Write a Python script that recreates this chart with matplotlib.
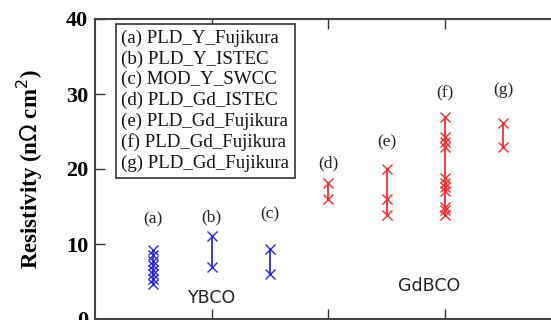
import matplotlib.pyplot as plt

# sample positions and measured resistivities (nOhm cm^2)
positions = [1, 2, 3, 4, 5, 6, 7]
tags = ["(a)", "(b)", "(c)", "(d)", "(e)", "(f)", "(g)"]
names = ["PLD_Y_Fujikura", "PLD_Y_ISTEC", "MOD_Y_SWCC", "PLD_Gd_ISTEC",
         "PLD_Gd_Fujikura", "PLD_Gd_Fujikura", "PLD_Gd_Fujikura"]
values = [
    [9.2, 8.5, 7.8, 7.2, 6.6, 6.0, 5.3, 4.7],
    [11.1, 6.9],
    [9.3, 6.0],
    [18.2, 16.0],
    [20.0, 16.0, 13.9],
    [27.0, 24.3, 23.6, 23.0, 18.8, 18.2, 17.6, 17.1, 15.0, 14.5, 13.9],
    [26.2, 23.0],
]
tag_y = [13.3, 13.5, 14.0, 20.8, 23.6, 30.1, 30.5]
groups = ["YBCO", "YBCO", "YBCO", "GdBCO", "GdBCO", "GdBCO", "GdBCO"]
colors = {"YBCO": "#2a2ae6", "GdBCO": "#ff2a2a"}

fig = plt.figure(figsize=(5.51, 3.20), dpi=100)
ax = fig.add_axes([95 / 551, 1 / 320, 466.7 / 551, 300 / 320])

for x, vals, g, t, ty in zip(positions, values, groups, tags, tag_y):
    vals = sorted(vals)
    ax.plot([x] * len(vals), vals, color=colors[g], lw=1.3, marker="x",
            ms=7, mew=1.0)
    ax.text(x, ty, t, ha="center", va="center", fontsize=12.5,
            family="Liberation Serif", color="#222222")

ax.text(2, 2.8, "YBCO", ha="center", va="center", fontsize=12.5,
        color="#222222")
ax.text(5.73, 4.4, "GdBCO", ha="center", va="center", fontsize=12.5,
        color="#222222")

legend_text = "\n".join(f"{t} {n}" for t, n in zip(tags, names))
ax.text(0.45, 38.6, legend_text, ha="left", va="top", fontsize=13.6,
        family="Liberation Serif", linespacing=1.26, color="#111111",
        bbox=dict(boxstyle="square,pad=0.3", fc="white", ec="#333333", lw=1.2))

ax.set_xlim(0, 8)
ax.set_ylim(0, 40)
ax.set_xticks([2, 4, 6])
ax.set_xticklabels([])
ax.set_yticks([0, 10, 20, 30, 40])
ax.tick_params(direction="in", length=7, width=1, top=True, right=True,
               color="#333333", labelsize=16, pad=5)
for lab in ax.get_yticklabels():
    lab.set_fontweight("bold")
    lab.set_family("Liberation Serif")
for s in ax.spines.values():
    s.set_linewidth(1.5)
    s.set_color("#444444")

ax.set_ylabel("Resistivity (n$\\Omega$ cm$^2$)", fontsize=16.5, fontweight="bold",
              family="Liberation Serif", labelpad=15)

fig.savefig("out.png", dpi=100)
